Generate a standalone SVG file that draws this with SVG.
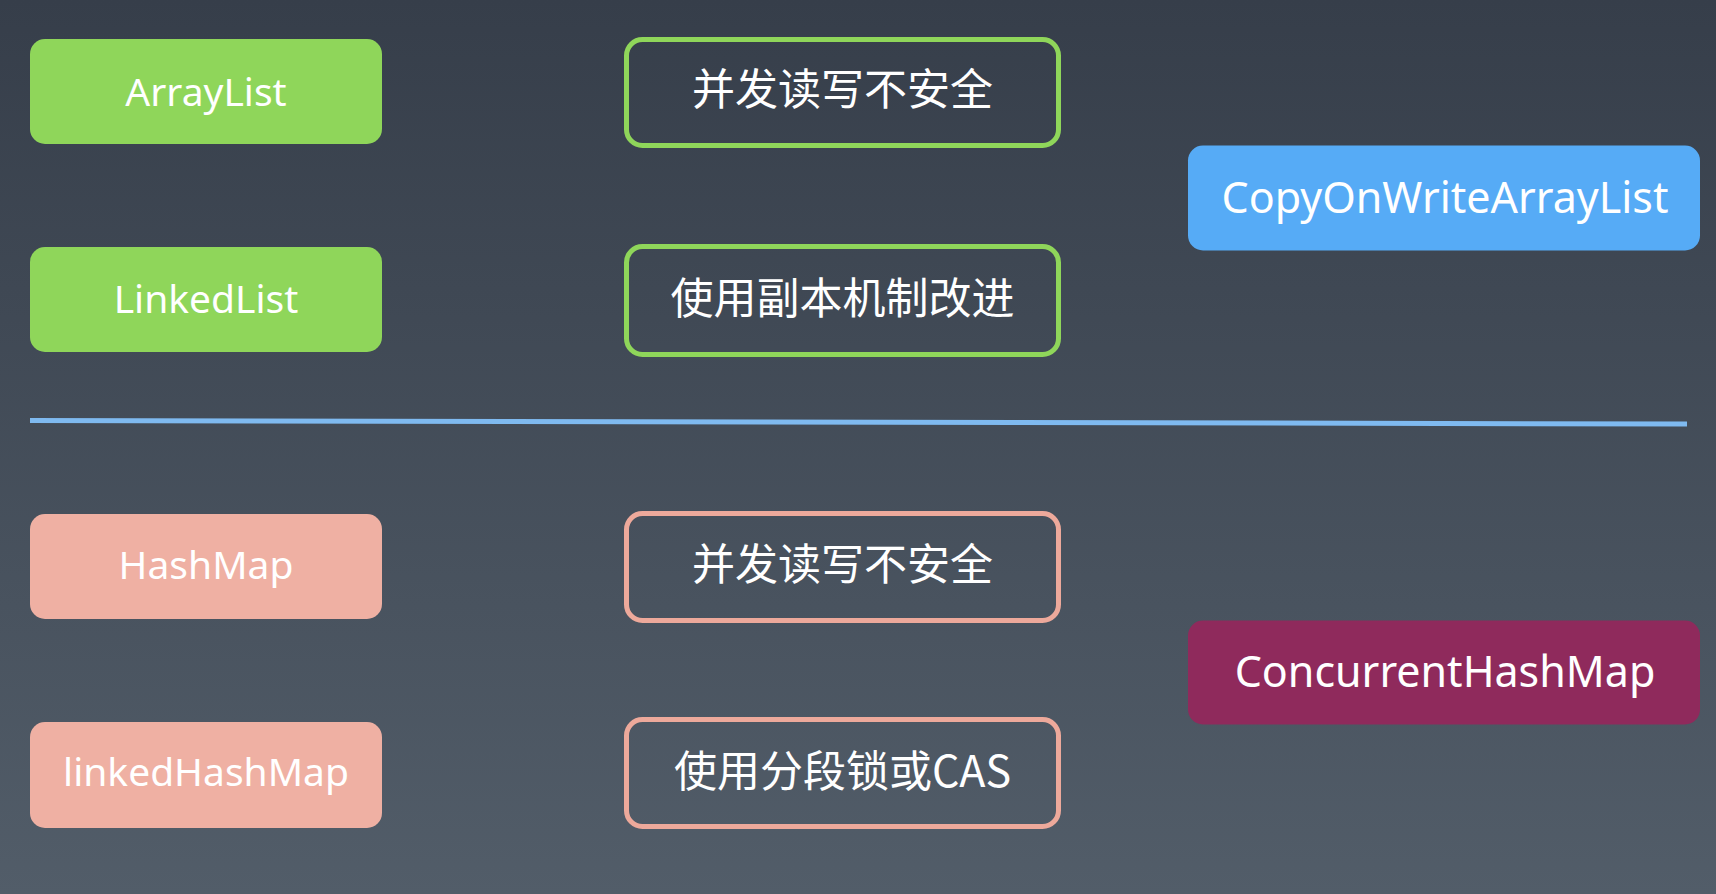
<svg xmlns="http://www.w3.org/2000/svg" width="1716" height="894" viewBox="0 0 1716 894">
<defs>
<linearGradient id="bg" x1="0" y1="0" x2="0" y2="1">
<stop offset="0" stop-color="#363e4a"/>
<stop offset="1" stop-color="#525d69"/>
</linearGradient>
<style>
.lbl{font-family:"Noto Sans","Noto Sans CJK SC",sans-serif;fill:#ffffff;text-anchor:middle}
.en{font-size:39px}
.enr{font-size:43px}
.cn{font-family:"Noto Sans CJK SC","Noto Sans",sans-serif;font-size:43px}
.green{fill:#8fd65a}
.pink{fill:#efb0a3}
.blue{fill:#56abf6}
.maroon{fill:#8f2a5c}
.og{fill:none;stroke:#8fd65a;stroke-width:5}
.op{fill:none;stroke:#eda99b;stroke-width:5}
</style>
</defs>
<rect x="0" y="0" width="1716" height="894" fill="url(#bg)"/>

<g id="arraylist">
<rect class="green" x="30" y="39" width="352" height="105" rx="15"/>
<text class="lbl en" x="206" y="106">ArrayList</text>
</g>
<g id="linkedlist">
<rect class="green" x="30" y="247" width="352" height="105" rx="15"/>
<text class="lbl en" x="206" y="313">LinkedList</text>
</g>
<g id="unsafe1">
<rect class="og" x="626.5" y="39.5" width="432" height="106" rx="16"/>
<text class="lbl cn" x="842.5" y="105">并发读写不安全</text>
</g>
<g id="copy-mechanism">
<rect class="og" x="626.5" y="246.5" width="432" height="108" rx="16"/>
<text class="lbl cn" x="842.5" y="314">使用副本机制改进</text>
</g>
<g id="cowal">
<rect class="blue" x="1188" y="145.5" width="512" height="105" rx="15"/>
<text class="lbl enr" x="1445" y="213">CopyOnWriteArrayList</text>
</g>

<g id="connectors">
<line x1="30" y1="420.5" x2="1687" y2="424" stroke="#7fbaf0" stroke-width="5"/>
</g>

<g id="hashmap">
<rect class="pink" x="30" y="514" width="352" height="105" rx="15"/>
<text class="lbl en" x="206" y="579">HashMap</text>
</g>
<g id="linkedhashmap">
<rect class="pink" x="30" y="722" width="352" height="106" rx="15"/>
<text class="lbl en" x="206" y="786">linkedHashMap</text>
</g>
<g id="unsafe2">
<rect class="op" x="626.5" y="513.5" width="432" height="107" rx="16"/>
<text class="lbl cn" x="842.5" y="580">并发读写不安全</text>
</g>
<g id="segment-cas">
<rect class="op" x="626.5" y="719.5" width="432" height="107" rx="16"/>
<text class="lbl cn" x="842.5" y="787">使用分段锁或CAS</text>
</g>
<g id="chm">
<rect class="maroon" x="1188" y="620.5" width="512" height="104" rx="15"/>
<text class="lbl enr" x="1445" y="687">ConcurrentHashMap</text>
</g>
</svg>
